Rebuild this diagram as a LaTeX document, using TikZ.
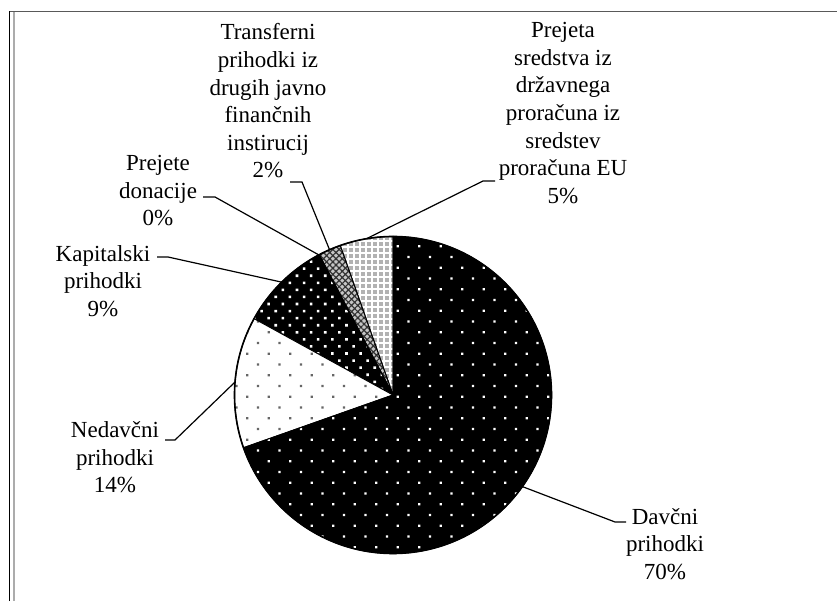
\documentclass[tikz,border=0pt]{standalone}
\usepackage{fontspec}
\setmainfont{Liberation Serif}
\usetikzlibrary{patterns.meta}

\newcommand{\pieR}{158.5}

\begin{document}
\begin{tikzpicture}[x=0.5pt,y=0.5pt,
  lbl/.style={align=center,inner sep=0,font=\fontsize{11.5}{13.8}\selectfont},
  leader/.style={line width=0.6pt},
  slice/.style={draw=black,line width=0.5pt},
  davfill/.style={preaction={fill=black},pattern={Dots[distance=7.6pt,angle=45,radius=0.8pt]},pattern color=white},
  nedfill/.style={preaction={fill=white},pattern={Dots[distance=7.6pt,angle=45,radius=0.8pt]},pattern color=black!60},
  kapfill/.style={preaction={fill=black},pattern={Dots[distance=5pt,angle=45,radius=0.9pt]},pattern color=white},
  donfill/.style={preaction={fill=gray}},
  trafill/.style={preaction={fill=gray!45},pattern={Hatch[distance=2.2pt,angle=45,line width=0.6pt]},pattern color=black!80},
  sredfill/.style={preaction={fill=gray!60},pattern={Hatch[distance=3pt,angle=0,line width=0.7pt]},pattern color=white}]

\useasboundingbox (0,0) rectangle (837,601);

% frame
\draw[black,line width=0.5pt] (9.5,0) -- (9.5,589.5);
\draw[gray!65,line width=0.8pt] (14,0) -- (14,589);
\draw[black!65,line width=0.6pt] (9.5,589.5) -- (837,589.5);

% pie
\coordinate (c) at (393,206);
\filldraw[slice,sredfill] (c) -- +(90:\pieR) arc[start angle=90,end angle=109.44,radius=\pieR] -- cycle;
\filldraw[slice,trafill] (c) -- +(109.44:\pieR) arc[start angle=109.44,end angle=117.72,radius=\pieR] -- cycle;
\filldraw[slice,donfill] (c) -- +(117.72:\pieR) arc[start angle=117.72,end angle=118.08,radius=\pieR] -- cycle;
\filldraw[slice,kapfill] (c) -- +(118.08:\pieR) arc[start angle=118.08,end angle=151.2,radius=\pieR] -- cycle;
\filldraw[slice,nedfill] (c) -- +(151.2:\pieR) arc[start angle=151.2,end angle=199.44,radius=\pieR] -- cycle;
\filldraw[slice,davfill] (c) -- +(199.44:\pieR) arc[start angle=199.44,end angle=450,radius=\pieR] -- cycle;
\draw[line width=0.8pt] (c) circle[radius=\pieR];

% Nodes
\node[lbl] (dav) at (665,57) {Davčni\\prihodki\\70\%};
\node[lbl] (ned) at (115,143.5) {Nedavčni\\prihodki\\14\%};
\node[lbl] (kap) at (103,320) {Kapitalski\\prihodki\\9\%};
\node[lbl] (don) at (158,410.4) {Prejete\\donacije\\0\%};
\node[lbl] (tra) at (268,500) {Transferni\\prihodki iz\\drugih javno\\finančnih\\instirucij\\2\%};
\node[lbl] (sred) at (563,488) {Prejeta\\sredstva iz\\državnega\\proračuna iz\\sredstev\\proračuna EU\\5\%};

% leader points
\coordinate (dav_e) at ([shift={(-35.3:\pieR)}]c);
\coordinate (dav_k) at (615,79);
\coordinate (dav_t) at (626,79);
\coordinate (ned_e) at ([shift={(175.3:\pieR)}]c);
\coordinate (ned_k) at (175,161);
\coordinate (ned_t) at (165,161);
\coordinate (kap_e) at ([shift={(134.6:\pieR)}]c);
\coordinate (kap_k) at (168,344);
\coordinate (kap_t) at (157,344);
\coordinate (don_e) at ([shift={(117.9:\pieR)}]c);
\coordinate (don_k) at (215,404);
\coordinate (don_t) at (203,404);
\coordinate (tra_e) at ([shift={(113.6:\pieR)}]c);
\coordinate (tra_k) at (302,419);
\coordinate (tra_t) at (290,419);
\coordinate (sred_e) at ([shift={(99.7:\pieR)}]c);
\coordinate (sred_k) at (483,420);
\coordinate (sred_t) at (495,420);

%leaders
\draw[leader] (dav_e) -- (dav_k) -- (dav_t);
\draw[leader] (ned_e) -- (ned_k) -- (ned_t);
\draw[leader] (kap_e) -- (kap_k) -- (kap_t);
\draw[leader] (don_e) -- (don_k) -- (don_t);
\draw[leader] (tra_e) -- (tra_k) -- (tra_t);
\draw[leader] (sred_e) -- (sred_k) -- (sred_t);

\end{tikzpicture}
\end{document}
